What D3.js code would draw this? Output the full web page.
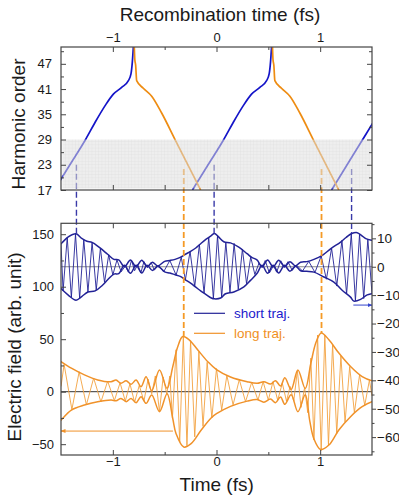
<!DOCTYPE html>
<html lang="en">
<head>
<meta charset="utf-8">
<script src="https://cdnjs.cloudflare.com/ajax/libs/d3/7.8.5/d3.min.js"></script>
<style>
    body { margin: 0; background: #fff; }
    svg text { font-family: Arial, "Liberation Sans", sans-serif; fill: #1a1a1a; }
    .axis line { stroke: #444; stroke-width: 1; }
    .axis path { display: none; }
</style>
</head>
<body>
<svg id="chart" width="399" height="497"></svg>
<script>
    // ---- top panel: harmonic order vs recombination time (fs) ----
    var blueRecT1 = [-1.565, -1.414, -1.263, -1.173, -1.076, -0.995, -0.915, -0.850, -0.825, -0.812, -0.802];
    var blueRecT2 = [-0.232, -0.081, 0.070, 0.160, 0.257, 0.338, 0.418, 0.483, 0.508, 0.521, 0.531];
    var blueRecH = [17, 23, 29, 33, 37, 39.8, 41.4, 43, 44.6, 47.4, 51];
    var blueRecT3 = [1.11, 1.26, 1.41, 1.50, 1.55];
    var blueRecH3 = [17, 23, 29, 32.6, 34.5];
    var orangeRecT1 = [-0.793, -0.788, -0.780, -0.770, -0.706, -0.625, -0.529, -0.400, -0.153];
    var orangeRecT2 = [0.540, 0.545, 0.553, 0.563, 0.627, 0.708, 0.804, 0.933, 1.180];
    var orangeRecH = [51, 48, 46.7, 43, 41.2, 39.3, 35.3, 29, 17];
    var shadeOrders = [17, 29];

    // dashed guide lines: time, start order (top), end value (bottom)
    var dashT = [-1.351, -0.316, -0.023, 1.013, 1.303];
    var dashFrom = [23, 22, 23, 22, 22];
    var dashTo = [11.6, 52.7, 11.7, 55.9, 11.8];
    var dashKind = ["short", "long", "short", "long", "short"];

    // ---- bottom panel: short trajectory (right axis) ----
    var blueUpT = [-1.52,-1.5,-1.43,-1.355,-1.30,-1.25,-1.20,-1.13,-1.05,-0.99,-0.943,-0.888,-0.830,-0.776,-0.721,-0.670,-0.618,-0.567,-0.50,-0.45,-0.40,-0.35,-0.30,-0.25,-0.20,-0.15,-0.10,-0.05,-0.02,0.02,0.07,0.135,0.215,0.295,0.34,0.39,0.44,0.493,0.546,0.60,0.656,0.708,0.762,0.811,0.87,0.94,1.02,1.10,1.197,1.25,1.30,1.357,1.40,1.44,1.50,1.52];
    var blueUpV = [7.5,8.1,10.5,11.6,10.0,9.0,8.6,6.8,4.4,2.6,2.4,0.0,2.4,0.0,2.3,0.0,1.6,0.3,1.9,2.2,2.6,3.3,4.4,5.4,6.6,8.2,9.7,11.0,11.7,10.5,8.8,8.4,6.9,4.6,3.3,2.4,0.0,2.4,0.0,2.3,0.0,1.8,0.3,1.6,1.8,2.6,4.0,6.3,8.7,10.3,11.6,12.0,11.0,9.9,9.3,9.2];
    var blueLoT = [-1.52,-1.5,-1.43,-1.355,-1.30,-1.24,-1.17,-1.10,-1.05,-0.99,-0.943,-0.888,-0.830,-0.776,-0.721,-0.670,-0.618,-0.567,-0.50,-0.45,-0.40,-0.35,-0.30,-0.25,-0.20,-0.15,-0.10,-0.05,-0.02,0.04,0.087,0.167,0.264,0.328,0.39,0.44,0.493,0.546,0.60,0.656,0.708,0.762,0.811,0.87,0.94,1.036,1.132,1.212,1.293,1.325,1.39,1.454,1.50,1.52];
    var blueLoV = [-7.0,-7.7,-10.0,-11.8,-10.5,-8.9,-8.5,-6.5,-4.6,-2.6,-2.4,0.5,-2.3,0.5,-2.2,0.5,-1.3,0.2,-1.8,-2.2,-2.8,-3.4,-4.6,-5.8,-7.2,-8.6,-9.8,-11.0,-11.3,-11.0,-9.5,-8.9,-7.1,-4.8,-2.4,0.5,-2.3,0.5,-2.2,0.5,-1.6,0.2,-1.4,-1.6,-1.9,-3.6,-5.4,-8.3,-10.7,-12.1,-11.5,-9.9,-9.5,-9.3];
    var blueZigT = [-1.50,-1.48,-1.44,-1.40,-1.36,-1.32,-1.28,-1.24,-1.20,-1.16,-1.12,-1.08,-1.04,-1.00,-0.96,-0.92,-0.88,-0.85,-0.82,-0.79,-0.76,-0.73,-0.70,-0.665,-0.63,-0.60,-0.56,-0.51,-0.45,-0.39,-0.34,-0.30,-0.255,-0.21,-0.165,-0.12,-0.075,-0.03,0.01,0.05,0.09,0.13,0.17,0.21,0.25,0.29,0.33,0.37,0.41,0.44,0.47,0.51,0.55,0.58,0.62,0.655,0.69,0.73,0.77,0.83,0.89,0.95,1.01,1.06,1.11,1.16,1.21,1.255,1.30,1.34,1.38,1.42,1.46,1.50];
    var blueZigV = [8.1,-8.5,10.3,-10.8,11.5,-11.2,9.6,-8.9,8.6,-8.2,6.5,-5.5,4.2,-2.9,2.4,-1.8,0.3,-1.9,2.3,-1.4,0.8,-2.2,1.8,-0.3,1.5,-1.2,0.5,-1.8,2.2,-2.9,3.3,-4.6,5.4,-7.0,7.8,-9.3,10.4,-11.2,11.0,-10.8,8.7,-9.0,8.2,-8.0,6.2,-6.0,3.4,-2.7,1.3,-0.3,2.2,-2.2,0.4,-1.9,2.1,-0.2,1.8,-1.3,0.6,-1.5,1.9,-2.0,3.8,-4.4,6.5,-6.8,9.3,-9.6,11.6,-12.0,11.5,-11.2,9.7,-9.5];

    // ---- bottom panel: long trajectory (left axis) ----
    var orUpT = [-1.52,-1.50,-1.40,-1.274,-1.146,-1.017,-0.969,-0.921,-0.872,-0.824,-0.776,-0.728,-0.679,-0.625,-0.55,-0.477,-0.422,-0.374,-0.325,-0.261,-0.18,-0.084,0.0,0.135,0.296,0.392,0.457,0.521,0.569,0.618,0.659,0.720,0.785,0.856,0.91,0.96,1.01,1.084,1.18,1.293,1.405,1.50,1.52];
    var orUpV = [30,28.7,22.4,16,11.2,9.5,11.1,8.0,10.5,7.0,11.1,4.8,14.3,1.0,20.7,3.2,23.8,42.9,52.5,49.2,39.7,28.6,21,14,9.5,8.0,9.5,7.3,10.5,5.4,13.3,2.2,20.7,3.0,27,47,56,49.5,36.8,24,14.4,10.5,10.2];
    var orLoT = [-1.52,-1.50,-1.40,-1.274,-1.146,-1.017,-0.969,-0.921,-0.872,-0.824,-0.776,-0.728,-0.679,-0.625,-0.55,-0.477,-0.422,-0.39,-0.316,-0.245,-0.149,-0.052,0.0,0.135,0.296,0.392,0.457,0.521,0.569,0.618,0.659,0.720,0.785,0.856,0.90,0.94,1.004,1.084,1.18,1.293,1.405,1.50,1.52];
    var orLoV = [-29,-27.1,-17.5,-12.7,-9.6,-8.0,-8.6,-6.4,-9.5,-6.4,-10.5,-4.8,-11.1,-3.2,-19,-2.0,-25.5,-40,-52.7,-49.5,-36.7,-25,-21,-14,-9,-7.5,-10,-7,-10.5,-5,-12,-3,-19,-3,-28,-45,-55,-50.8,-36.5,-23.8,-14.3,-9.5,-9.2];
    var orZigT = [-1.50,-1.47,-1.395,-1.325,-1.255,-1.185,-1.115,-1.05,-0.985,-0.93,-0.88,-0.835,-0.79,-0.745,-0.70,-0.66,-0.625,-0.59,-0.55,-0.515,-0.48,-0.45,-0.425,-0.39,-0.355,-0.32,-0.285,-0.25,-0.21,-0.17,-0.13,-0.09,-0.045,0.0,0.05,0.10,0.16,0.22,0.28,0.34,0.40,0.45,0.50,0.545,0.59,0.635,0.675,0.71,0.745,0.78,0.815,0.85,0.88,0.91,0.94,0.975,1.01,1.045,1.08,1.12,1.16,1.20,1.24,1.285,1.33,1.38,1.43,1.475,1.50];
    var orZigV = [5,26,-17,19,-12.5,13,-9.8,10,-8.5,8.5,-9,7.5,-10,6,-9,12,-2,15,-19,14,-2,15,-25,40,-48,52.5,-51.5,48.5,-43,38,-33,28,-25,22,-17.5,15.5,-12.5,11.5,-9.5,9,-8,9.5,-8,9.5,-8,8,-9,5,-9,20,-15,4,-20,32,-46,54,-56,54,-51,45,-40,34,-29,24,-20,16,-13,11,-4];

    // arrows showing which axis each trace uses
    var blueArrowT = [1.32, 1.5], blueArrowV = -13.5;
    var orArrowT = [-0.42, -1.5], orArrowV = -37.5;

    // axis ticks
    var timeTicks = [-1, 0, 1], timeMinor = [-0.5, 0.5];
    var orderTicks = [17, 23, 29, 35, 41, 47], orderMinor = [20, 26, 32, 38, 44, 50];
    var leftTicks = [-50, 0, 50, 100, 150], leftMinor = [-25, 25, 75, 125];
    var rightTicks = [-60, -50, -40, -30, -20, -10, 0, 10], rightMinor = [-65, -55, -45, -35, -25, -15, -5, 5, 15];

    var BLUE = "#1414c8", ORANGE = "#ee8c12", NAVY = "#222296", ORLINE = "#f0922a";

    var svg = d3.select("#chart");
    var L = 61, R = 372, top1 = 47, bot1 = 190, top2 = 223.3, bot2 = 455;

    var x = d3.scaleLinear().domain([-1.5, 1.5]).range([L, R]);
    var yH = d3.scaleLinear().domain([17, 51]).range([bot1, top1]);
    var yL = d3.scaleLinear().domain([-60.3, 160.4]).range([bot2, top2]);
    var yR = d3.scaleLinear().domain([-66.3, 15.3]).range([bot2, top2]);

    var defs = svg.append("defs");
    defs.append("clipPath").attr("id", "c1").append("rect")
        .attr("x", L).attr("y", top1).attr("width", R - L).attr("height", bot1 - top1);
    defs.append("clipPath").attr("id", "c2").append("rect")
        .attr("x", L).attr("y", top2).attr("width", R - L).attr("height", bot2 - top2);
    var pat = defs.append("pattern").attr("id", "grid")
        .attr("width", 3.3).attr("height", 3.3).attr("patternUnits", "userSpaceOnUse");
    pat.append("rect").attr("width", 3.3).attr("height", 3.3).attr("fill", "#e0e0e0");
    pat.append("path").attr("d", "M3.3 0V3.3M0 3.3H3.3")
        .attr("stroke", "#c2c2c2").attr("stroke-width", 0.6).attr("fill", "none");
    var mk = function(id, color) {
        defs.append("marker").attr("id", id).attr("viewBox", "0 0 10 10")
            .attr("refX", 9).attr("refY", 5).attr("markerWidth", 5).attr("markerHeight", 5)
            .attr("orient", "auto")
            .append("path").attr("d", "M0 1L10 5L0 9z").attr("fill", color);
    };
    mk("arrB", "#3344cc");
    mk("arrO", ORLINE);

    function pairs(ts, vs) { return ts.map((t, i) => [t, vs[i]]); }

    // ---------- bottom panel traces ----------
    var g2 = svg.append("g").attr("clip-path", "url(#c2)");

    g2.append("line").attr("x1", L).attr("x2", R)
        .attr("y1", yR(0)).attr("y2", yR(0)).attr("stroke", "#8a8a8a").attr("stroke-width", 1);
    g2.append("line").attr("x1", L).attr("x2", R)
        .attr("y1", yL(0)).attr("y2", yL(0)).attr("stroke", "#333").attr("stroke-width", 1);

    var envR = d3.line().curve(d3.curveCatmullRom).x(d => x(d[0])).y(d => yR(d[1]));
    var zigR = d3.line().x(d => x(d[0])).y(d => yR(d[1]));
    var envL = d3.line().curve(d3.curveCatmullRom).x(d => x(d[0])).y(d => yL(d[1]));
    var zigL = d3.line().x(d => x(d[0])).y(d => yL(d[1]));

    g2.append("path").attr("d", zigR(pairs(blueZigT, blueZigV)))
        .attr("fill", "none").attr("stroke", NAVY).attr("stroke-width", 0.9);
    g2.append("path").attr("d", envR(pairs(blueUpT, blueUpV)))
        .attr("fill", "none").attr("stroke", NAVY).attr("stroke-width", 1.5);
    g2.append("path").attr("d", envR(pairs(blueLoT, blueLoV)))
        .attr("fill", "none").attr("stroke", NAVY).attr("stroke-width", 1.5);

    g2.append("path").attr("d", zigL(pairs(orZigT, orZigV)))
        .attr("fill", "none").attr("stroke", "#f3a23f").attr("stroke-width", 0.9);
    g2.append("path").attr("d", envL(pairs(orUpT, orUpV)))
        .attr("fill", "none").attr("stroke", ORLINE).attr("stroke-width", 1.5);
    g2.append("path").attr("d", envL(pairs(orLoT, orLoV)))
        .attr("fill", "none").attr("stroke", ORLINE).attr("stroke-width", 1.5);

    g2.append("line").attr("x1", x(blueArrowT[0])).attr("x2", x(blueArrowT[1]))
        .attr("y1", yR(blueArrowV)).attr("y2", yR(blueArrowV))
        .attr("stroke", "#3344cc").attr("stroke-width", 1).attr("marker-end", "url(#arrB)");
    g2.append("line").attr("x1", x(orArrowT[0])).attr("x2", x(orArrowT[1]))
        .attr("y1", yL(orArrowV)).attr("y2", yL(orArrowV))
        .attr("stroke", ORLINE).attr("stroke-width", 1).attr("marker-end", "url(#arrO)");

    // ---------- top panel curves ----------
    var g1 = svg.append("g").attr("clip-path", "url(#c1)");
    var rec = d3.line().curve(d3.curveMonotoneX).x(d => x(d[0])).y(d => yH(d[1]));
    [[blueRecT1, blueRecH, BLUE], [blueRecT2, blueRecH, BLUE], [blueRecT3, blueRecH3, BLUE],
     [orangeRecT1, orangeRecH, ORANGE], [orangeRecT2, orangeRecH, ORANGE]].forEach(function(s) {
        g1.append("path").attr("d", rec(pairs(s[0], s[1])))
            .attr("fill", "none").attr("stroke", s[2]).attr("stroke-width", 1.7);
    });

    // dashed guides crossing both panels
    dashT.forEach(function(t, i) {
        var isShort = dashKind[i] === "short";
        svg.append("line")
            .attr("x1", x(t)).attr("x2", x(t))
            .attr("y1", yH(dashFrom[i]))
            .attr("y2", isShort ? yR(dashTo[i]) : yL(dashTo[i]))
            .attr("stroke", isShort ? "#3a3aa8" : "#f59a26")
            .attr("stroke-width", isShort ? 1.4 : 1.8)
            .attr("stroke-dasharray", "6,3");
    });

    // shaded grid band (drawn on top so curves appear faded)
    svg.append("rect")
        .attr("x", L + 1.5).attr("width", R - L - 3)
        .attr("y", yH(shadeOrders[1])).attr("height", yH(shadeOrders[0]) - yH(shadeOrders[1]) - 1.5)
        .attr("fill", "url(#grid)").attr("opacity", 0.55);

    // ---------- frames ----------
    [[top1, bot1], [top2, bot2]].forEach(function(p) {
        svg.append("rect").attr("x", L).attr("y", p[0]).attr("width", R - L).attr("height", p[1] - p[0])
            .attr("fill", "none").attr("stroke", "#444").attr("stroke-width", 1.2);
    });

    // ---------- axes ----------
    function put(axis, tx, ty) {
        return svg.append("g").attr("class", "axis").attr("transform", "translate(" + tx + "," + ty + ")").call(axis);
    }
    put(d3.axisTop(x).tickValues(timeTicks).tickSize(-5).tickPadding(5).tickFormat(d3.format("d")), 0, top1)
        .selectAll("text").style("font-size", "13px");
    put(d3.axisTop(x).tickValues(timeMinor).tickSize(-3).tickFormat(""), 0, top1);
    put(d3.axisBottom(x).tickValues(timeTicks.concat(timeMinor)).tickSize(-5).tickFormat(""), 0, bot1);
    put(d3.axisTop(x).tickValues(timeTicks.concat(timeMinor)).tickSize(-5).tickFormat(""), 0, top2);
    put(d3.axisBottom(x).tickValues(timeTicks).tickSize(-5).tickPadding(2).tickFormat(d3.format("d")), 0, bot2)
        .selectAll("text").style("font-size", "13px");
    put(d3.axisBottom(x).tickValues(timeMinor).tickSize(-3).tickFormat(""), 0, bot2);

    put(d3.axisLeft(yH).tickValues(orderTicks).tickSize(-5).tickPadding(9), L, 0)
        .selectAll("text").style("font-size", "13px");
    put(d3.axisLeft(yH).tickValues(orderMinor).tickSize(-3).tickFormat(""), L, 0);
    put(d3.axisRight(yH).tickValues(orderTicks).tickSize(-5).tickFormat(""), R, 0);
    put(d3.axisRight(yH).tickValues(orderMinor).tickSize(-3).tickFormat(""), R, 0);

    put(d3.axisLeft(yL).tickValues(leftTicks).tickSize(-5).tickPadding(7), L, 0)
        .selectAll("text").style("font-size", "13px");
    put(d3.axisLeft(yL).tickValues(leftMinor).tickSize(-3).tickFormat(""), L, 0);
    put(d3.axisRight(yR).tickValues(rightTicks).tickSize(4).tickPadding(1), R, 0)
        .selectAll("text").style("font-size", "13.5px");
    put(d3.axisRight(yR).tickValues(rightMinor.filter(v => v > -66 && v < 15.3)).tickSize(2.5).tickFormat(""), R, 0);

    // ---------- titles ----------
    svg.append("text").attr("x", 220).attr("y", 21).attr("text-anchor", "middle")
        .style("font-size", "19px").text("Recombination time (fs)");
    svg.append("text").attr("x", 216.7).attr("y", 491).attr("text-anchor", "middle")
        .style("font-size", "19px").text("Time (fs)");
    svg.append("text").attr("transform", "translate(25,124) rotate(-90)").attr("text-anchor", "middle")
        .style("font-size", "19px").text("Harmonic order");
    svg.append("text").attr("transform", "translate(21,347) rotate(-90)").attr("text-anchor", "middle")
        .style("font-size", "19px").text("Electric field (arb. unit)");

    // ---------- legend ----------
    var leg = [["short traj.", NAVY, "#1a1acc", 313.3], ["long traj.", ORLINE, "#f0901e", 333.3]];
    leg.forEach(function(d) {
        svg.append("line").attr("x1", 194).attr("x2", 225).attr("y1", d[3]).attr("y2", d[3])
            .attr("stroke", d[1]).attr("stroke-width", 1.2);
        svg.append("text").attr("x", 234).attr("y", d[3] + 4.8)
            .style("font-size", "13.5px").style("fill", d[2]).text(d[0]);
    });
</script>
</body>
</html>
